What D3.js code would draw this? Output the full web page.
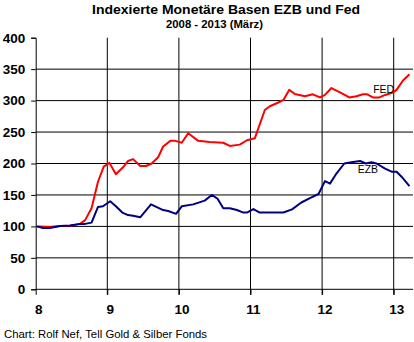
<!DOCTYPE html>
<html><head><meta charset="utf-8">
<script src="https://cdn.jsdelivr.net/npm/d3@7"></script>
<style>
html,body{margin:0;padding:0;background:#fff;}
svg{display:block;font-family:"Liberation Sans",Arial,sans-serif;}
</style></head>
<body>
<svg id="c" width="414" height="342"></svg>
<script>
// Data (x = decimal year, 8 = 2008)
const fedX = [8.02,8.2,8.34,8.48,8.62,8.69,8.78,8.87,8.95,9.03,9.12,9.22,9.29,9.36,9.46,9.54,9.62,9.71,9.78,9.88,9.95,10.04,10.13,10.27,10.43,10.62,10.71,10.85,10.95,11.06,11.2,11.27,11.39,11.46,11.54,11.62,11.76,11.87,11.97,12.04,12.13,12.25,12.38,12.48,12.57,12.63,12.71,12.8,12.88,12.99,13.04,13.13,13.22];
const fedY = [100,99,100.5,101,104,110,129,171,195,201,183,194,204,207,196,196,200,210,227,236,236,233,248,236,234,233,228,230,237,240,285,291,297,301,317,310.5,307,310,305,309,320,313,305,307,310,310,305,305,309,313,317,332,342];
const ezbX = [8.02,8.1,8.2,8.34,8.48,8.62,8.69,8.78,8.87,8.94,9.04,9.12,9.21,9.29,9.36,9.46,9.61,9.78,9.85,9.96,10.04,10.2,10.36,10.46,10.54,10.62,10.71,10.81,10.9,10.95,11.04,11.13,11.27,11.46,11.58,11.71,11.83,11.95,12.04,12.11,12.2,12.31,12.41,12.53,12.61,12.69,12.76,12.88,12.97,13.04,13.11,13.22];
const ezbY = [100,97.5,97.5,100.5,101.5,104,104,106,131,132,140,132,122,118,117,114.5,135,126,124.5,120,132,135,141,150,144,129,129,126,122,122,127.5,122,122,122,127,138,145,151.5,172,168,184,200,202,204,200,202,200,192,187,187,179,164];
const xTicks = [8,9,10,11,12,13];
const yTicks = [0,50,100,150,200,250,300,350,400];
const title = "Indexierte Monetäre Basen EZB und Fed";
const subtitle = "2008 - 2013 (März)";
const source = "Chart: Rolf Nef, Tell Gold & Silber Fonds";
const seriesLabels = [{name:"FED", x:12.86, y:317.5},{name:"EZB", x:12.64, y:190.5}];

const svg = d3.select("#c");
const x = d3.scaleLinear().domain([8,13]).range([35.7,393.7]);
const y = d3.scaleLinear().domain([0,400]).range([289.3,37.7]);
const xRight = 413;

// horizontal gridlines (not at 0 or 400)
svg.append("g").selectAll("line").data(yTicks.filter(d=>d>0&&d<400)).join("line")
  .attr("x1",x(8)).attr("x2",xRight).attr("y1",d=>y(d)).attr("y2",d=>y(d))
  .attr("stroke","#000").attr("stroke-width",1);
// vertical gridlines
svg.append("g").selectAll("line").data(xTicks.filter(d=>d>8)).join("line")
  .attr("x1",d=>x(d)).attr("x2",d=>x(d)).attr("y1",y(400)).attr("y2",y(0)+5.5)
  .attr("stroke","#000").attr("stroke-width",1);

// y axis
const yAxis = svg.append("g").attr("transform",`translate(${x(8)},0)`)
  .call(d3.axisLeft(y).tickValues(yTicks).tickSize(4.5).tickPadding(6));
yAxis.select(".domain").attr("stroke","#000");
yAxis.selectAll("text").attr("font-size",13.5).attr("font-weight","bold").attr("fill","#000")
  .attr("font-family","Liberation Sans, Arial, sans-serif");
// x axis
const xAxis = svg.append("g").attr("transform",`translate(0,${y(0)})`)
  .call(d3.axisBottom(x).tickValues(xTicks).tickFormat(d3.format("d")).tickSize(5.5).tickPadding(10).tickSizeOuter(0));
xAxis.select(".domain").attr("d",`M${x(8)},0H${xRight}`).attr("stroke","#000");
xAxis.selectAll("text").attr("font-size",13.5).attr("font-weight","bold").attr("fill","#000")
  .attr("dx",2.5).attr("font-family","Liberation Sans, Arial, sans-serif");

const line = d3.line().x(d=>x(d[0])).y(d=>y(d[1]));
svg.append("path").datum(fedX.map((v,i)=>[v,fedY[i]])).attr("d",line)
  .attr("fill","none").attr("stroke","#ff0000").attr("stroke-width",2).attr("stroke-linejoin","round");
svg.append("path").datum(ezbX.map((v,i)=>[v,ezbY[i]])).attr("d",line)
  .attr("fill","none").attr("stroke","#000080").attr("stroke-width",2).attr("stroke-linejoin","round");

svg.append("g").selectAll("text").data(seriesLabels).join("text")
  .attr("x",d=>x(d.x)).attr("y",d=>y(d.y)).attr("dy","0.35em").attr("text-anchor","middle")
  .attr("font-size",10.5).attr("fill","#000").text(d=>d.name);

svg.append("text").attr("x",226).attr("y",14).attr("text-anchor","middle")
  .attr("font-size",13.5).attr("font-weight","bold")
  .attr("textLength",268).attr("lengthAdjust","spacingAndGlyphs").text(title);
svg.append("text").attr("x",214.5).attr("y",28).attr("text-anchor","middle")
  .attr("font-size",10).attr("font-weight","bold")
  .attr("textLength",97).attr("lengthAdjust","spacingAndGlyphs").text(subtitle);
svg.append("text").attr("x",4).attr("y",338).attr("font-size",10.5).attr("fill","#000")
  .attr("textLength",203).attr("lengthAdjust","spacingAndGlyphs").text(source);
</script>
</body></html>
